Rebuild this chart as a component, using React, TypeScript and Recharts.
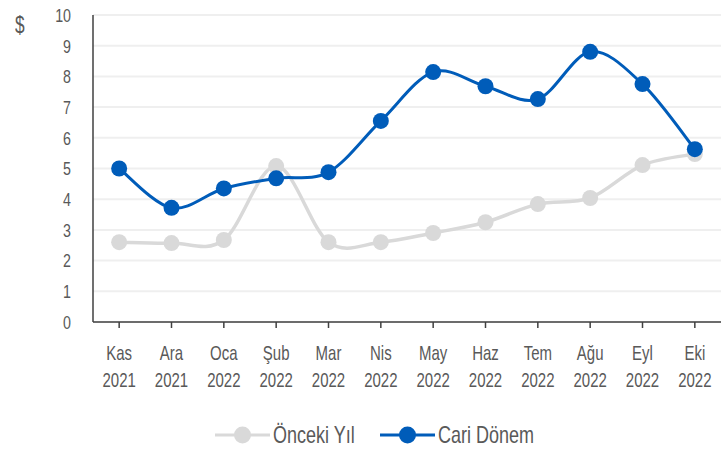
import { CartesianGrid, Line, LineChart, XAxis, YAxis } from "recharts";

const MONTHS = ["Kas", "Ara", "Oca", "Şub", "Mar", "Nis", "May", "Haz", "Tem", "Ağu", "Eyl", "Eki"];
const YEARS = ["2021", "2021", "2022", "2022", "2022", "2022", "2022", "2022", "2022", "2022", "2022", "2022"];
const PREV_YEAR = [2.6, 2.57, 2.67, 5.08, 2.6, 2.6, 2.9, 3.25, 3.84, 4.04, 5.11, 5.47];
const CURRENT = [5.0, 3.72, 4.35, 4.68, 4.88, 6.55, 8.14, 7.68, 7.26, 8.8, 7.75, 5.63];
const Y_TICKS = [0, 1, 2, 3, 4, 5, 6, 7, 8, 9, 10];

// no narrow font installed, so Liberation Sans gets squeezed horizontally
const FONT = "'Liberation Sans', Arial, sans-serif";
const SQUEEZE = 0.75;
const TEXT = "#595959";
const AXIS = "#404040";

const SERIES = [
  { key: "prev", name: "Önceki Yıl", color: "#d9d9d9", width: 3.5, textW: 80 },
  { key: "cur", name: "Cari Dönem", color: "#005cb9", width: 3, textW: 96 },
];

const data = MONTHS.map((m, i) => ({
  label: `${m} ${YEARS[i]}`,
  prev: PREV_YEAR[i],
  cur: CURRENT[i],
}));

// catmull-rom style smoothing, like the spreadsheet "smoothed line"
const smoothCurve = (ctx: any) => {
  let pts: number[][] = [];
  return {
    areaStart() {},
    areaEnd() {},
    lineStart() {
      pts = [];
    },
    point(x: number, y: number) {
      pts.push([+x, +y]);
    },
    lineEnd() {
      if (!pts.length) return;
      ctx.moveTo(pts[0][0], pts[0][1]);
      for (let i = 0; i < pts.length - 1; i++) {
        const p0 = pts[i - 1] || pts[i];
        const p1 = pts[i];
        const p2 = pts[i + 1];
        const p3 = pts[i + 2] || pts[i + 1];
        ctx.bezierCurveTo(
          p1[0] + (p2[0] - p0[0]) / 6,
          p1[1] + (p2[1] - p0[1]) / 6,
          p2[0] - (p3[0] - p1[0]) / 6,
          p2[1] - (p3[1] - p1[1]) / 6,
          p2[0],
          p2[1]
        );
      }
    },
  };
};

const XTick = ({ x, y, payload }: any) => {
  const [m, yr] = String(payload.value).split(" ");
  return (
    <g transform={`translate(${x},${y}) scale(${SQUEEZE},1)`}>
      <text x={0} y={30} textAnchor="middle" fill={TEXT} fontSize={20} fontFamily={FONT}>
        {m}
      </text>
      <text x={0} y={57.5} textAnchor="middle" fill={TEXT} fontSize={20} fontFamily={FONT}>
        {yr}
      </text>
    </g>
  );
};

const YTick = ({ x, y, payload }: any) => (
  <g transform={`translate(${x},${y}) scale(${SQUEEZE},1)`}>
    <text x={0} y={0} dy="0.36em" textAnchor="end" fill={TEXT} fontSize={19} fontFamily={FONT}>
      {payload.value}
    </text>
  </g>
);

export default function App() {
  return (
    <div style={{ position: "absolute", left: 0, top: 0, width: 721, height: 453, background: "#fff" }}>
      <LineChart width={721} height={453} data={data} margin={{ top: 15, right: 0, bottom: 0, left: 0 }}>
        <CartesianGrid vertical={false} stroke="#efefef" strokeWidth={2} />
        <XAxis
          dataKey="label"
          scale="band"
          interval={0}
          height={131}
          tickSize={6}
          tickMargin={2}
          axisLine={{ stroke: AXIS, strokeWidth: 1.5 }}
          tickLine={{ stroke: AXIS, strokeWidth: 1.5 }}
          tick={<XTick />}
        />
        <YAxis
          width={93}
          domain={[0, 10]}
          ticks={Y_TICKS}
          interval={0}
          tickSize={0}
          tickMargin={22}
          axisLine={{ stroke: AXIS, strokeWidth: 1.5 }}
          tickLine={false}
          tick={<YTick />}
        />
        {SERIES.map((s) => (
          <Line
            key={s.key}
            dataKey={s.key}
            name={s.name}
            type={smoothCurve as any}
            stroke={s.color}
            strokeWidth={s.width}
            dot={{ r: 8, fill: s.color, stroke: "none" }}
            activeDot={false}
            isAnimationActive={false}
          />
        ))}
      </LineChart>
      <div
        style={{
          position: "absolute",
          left: 15,
          top: 12,
          fontFamily: FONT,
          fontSize: 23,
          color: TEXT,
          transform: `scaleX(${SQUEEZE})`,
          transformOrigin: "left",
        }}
      >
        $
      </div>
      <div
        style={{
          position: "absolute",
          left: 215,
          top: 421,
          display: "flex",
          alignItems: "center",
          fontFamily: FONT,
          fontSize: 24,
          color: TEXT,
        }}
      >
        {SERIES.map((s, i) => (
          <div key={s.key} style={{ display: "flex", alignItems: "center", marginLeft: i ? 27 : 0 }}>
            <svg width={55} height={20}>
              <line x1={0} y1={10} x2={55} y2={10} stroke={s.color} strokeWidth={3} />
              <circle cx={27.5} cy={10} r={8.5} fill={s.color} />
            </svg>
            <span
              style={{
                marginLeft: 3,
                width: s.textW,
                whiteSpace: "nowrap",
                display: "inline-block",
                transform: `scaleX(${SQUEEZE})`,
                transformOrigin: "left",
              }}
            >
              {s.name}
            </span>
          </div>
        ))}
      </div>
    </div>
  );
}
